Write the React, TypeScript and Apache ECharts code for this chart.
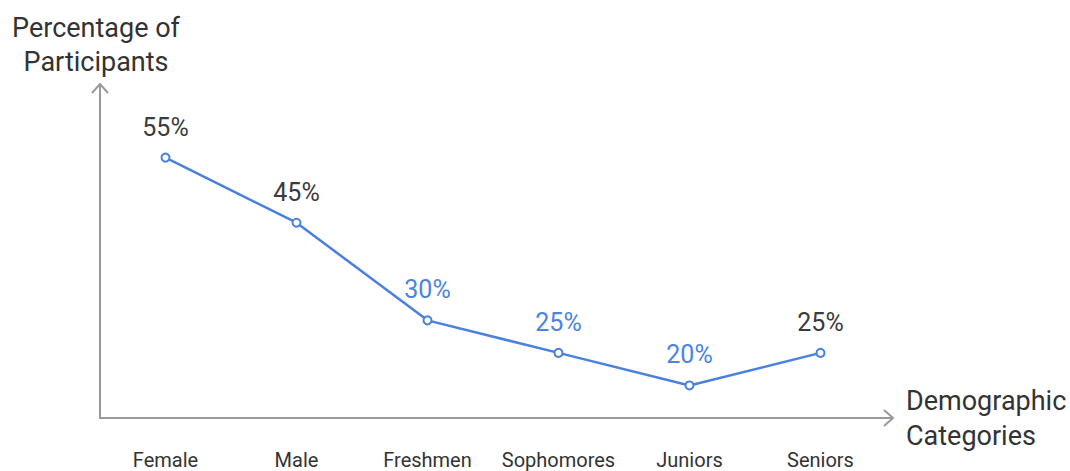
import React, { useEffect, useRef } from "react";
import * as echarts from "echarts";

const categories = ["Female", "Male", "Freshmen", "Sophomores", "Juniors", "Seniors"];
const values = [55, 45, 30, 25, 20, 25];
const labelColors = ["#3b3b3b", "#3b3b3b", "#4a84e2", "#4a84e2", "#4a84e2", "#3b3b3b"];
const yName = "Percentage of\nParticipants";
const xName = "Demographic\nCategories";

const AXIS = "#9a9a9a";
const BLUE = "#4a80e0";
const FONT = "Roboto";

export default function App() {
  const ref = useRef<HTMLDivElement>(null);
  useEffect(() => {
    if (!ref.current) return;
    const chart = echarts.init(ref.current, null, { renderer: "svg" });
    const gridLeft = 100, gridRight = 184, gridTop = 86, gridBottom = 53;
    const W = 1070, H = 471;
    const axisY = H - gridBottom;
    const axisXEnd = W - gridRight;
    chart.setOption({
      animation: false,
      backgroundColor: "#ffffff",
      grid: { left: gridLeft, right: gridRight, top: gridTop, bottom: gridBottom, containLabel: false },
      xAxis: {
        type: "category",
        data: categories,
        boundaryGap: true,
        axisLine: { show: true, lineStyle: { color: AXIS, width: 2 } },
        axisTick: { show: false },
        axisLabel: { color: "#333333", fontSize: 20, fontFamily: FONT, margin: 32, interval: 0, hideOverlap: false },
        name: xName,
        nameLocation: "end",
        nameGap: 20,
        nameTextStyle: { color: "#333333", fontSize: 27, fontFamily: FONT, align: "left", verticalAlign: "middle", lineHeight: 35 },
        splitLine: { show: false },
      },
      yAxis: {
        type: "value",
        min: 15,
        max: 66,
        axisLine: { show: true, lineStyle: { color: AXIS, width: 2 } },
        axisTick: { show: false },
        axisLabel: { show: false },
        splitLine: { show: false },
        name: yName,
        nameLocation: "end",
        nameGap: 7,
        nameTextStyle: { color: "#333333", fontSize: 27, fontFamily: FONT, align: "center", verticalAlign: "bottom", lineHeight: 34, padding: [0, 8, 0, 0] },
      },
      graphic: [
        { type: "line", shape: { x1: axisXEnd - 1, y1: axisY, x2: 893, y2: axisY }, style: { stroke: AXIS, lineWidth: 2 } },
        { type: "polyline", shape: { points: [[884, axisY - 8], [893, axisY], [884, axisY + 8]] }, style: { stroke: AXIS, lineWidth: 2, fill: null } },
        { type: "line", shape: { x1: gridLeft, y1: gridTop + 1, x2: gridLeft, y2: 84 }, style: { stroke: AXIS, lineWidth: 2 } },
        { type: "polyline", shape: { points: [[gridLeft - 8, 93], [gridLeft, 84], [gridLeft + 8, 93]] }, style: { stroke: AXIS, lineWidth: 2, fill: null } },
      ],
      series: [
        {
          type: "line",
          data: values.map((v, i) => ({
            value: v,
            label: { color: labelColors[i] },
          })),
          lineStyle: { color: BLUE, width: 2.5 },
          itemStyle: { color: "#ffffff", borderColor: BLUE, borderWidth: 2 },
          symbol: "circle",
          symbolSize: 8,
          label: {
            show: true,
            position: "top",
            distance: 13,
            fontSize: 25,
            fontFamily: FONT,
            formatter: (p: any) => p.value + "%",
          },
        },
      ],
    });
    return () => chart.dispose();
  }, []);
  return (
    <div
      ref={ref}
      style={{ position: "fixed", left: 0, top: 0, width: 1070, height: 471, background: "#fff" }}
    />
  );
}
